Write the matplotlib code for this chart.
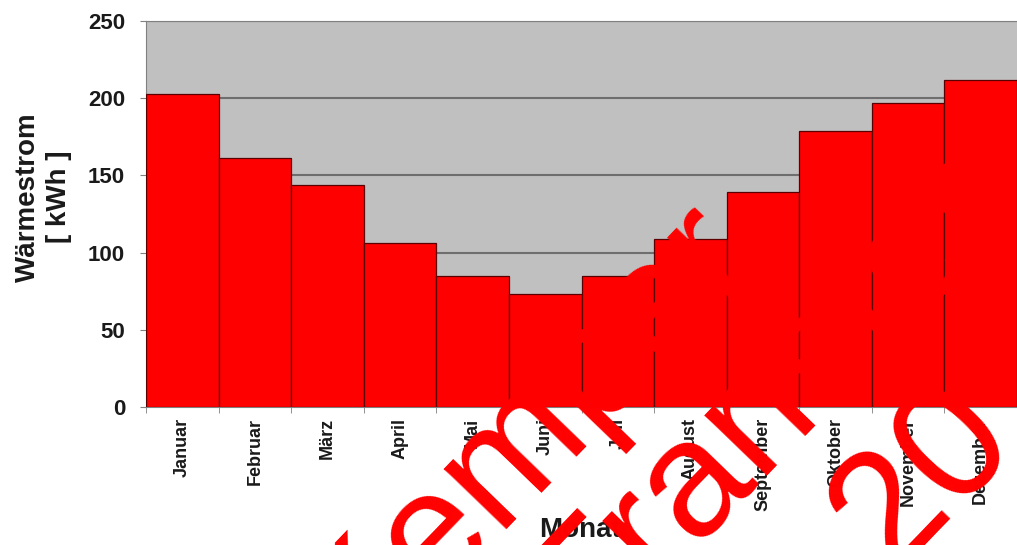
import matplotlib.pyplot as plt
import numpy as np

plt.rcParams["font.family"] = ["Liberation Sans", "DejaVu Sans"]

MONATE = ["Januar", "Februar", "März", "April", "Mai", "Juni",
          "Juli", "August", "September", "Oktober", "November", "Dezember"]
WAERMESTROM = [203, 161, 144, 106, 85, 73, 85, 109, 139, 179, 197, 212]
Y_TICKS = [0, 50, 100, 150, 200, 250]
WASSERZEICHEN = ["Kemper", "Transfer", "20"]

W, H = 1017, 545


def main() -> None:
    fig = plt.figure(figsize=(W / 100, H / 100), dpi=100)
    ax = fig.add_axes([146 / W, 1 - 407 / H, 1 - 146 / W, (407 - 21) / H])
    ax.set_facecolor("#c0c0c0")

    x = np.arange(len(MONATE))
    ax.bar(x, WAERMESTROM, width=1.0, color="#ff0000",
           edgecolor="#5a0000", linewidth=0.9, zorder=3)

    ax.set_xlim(-0.5, len(MONATE) - 0.5)
    ax.set_ylim(0, 250)
    ax.set_yticks(Y_TICKS)
    ax.set_yticklabels([str(v) for v in Y_TICKS], fontsize=16, fontweight="bold",
                       color="#1a1a1a")
    ax.yaxis.grid(True, color="#6e6e6e", linewidth=1.5, zorder=1)
    ax.set_axisbelow(True)

    # category labels centred, tick marks on the bar boundaries
    ax.set_xticks(x)
    ax.set_xticklabels(MONATE, rotation=90, fontsize=13, fontweight="bold",
                       va="top", ha="center", color="#1a1a1a")
    ax.tick_params(axis="x", which="major", length=0, pad=8)
    ax.set_xticks(np.arange(len(MONATE) + 1) - 0.5, minor=True)
    ax.tick_params(axis="x", which="minor", length=4.5, color="#808080")
    ax.tick_params(axis="y", length=4.5, color="#808080", pad=10.5)

    for side in ("left", "top", "bottom"):
        ax.spines[side].set_color("#808080")
    ax.spines["right"].set_visible(False)

    fig.text(43 / W, 1 - 197 / H, "Wärmestrom\n[ kWh ]", rotation=90,
             ha="center", va="center", fontsize=20, fontweight="bold",
             linespacing=1.25, color="#1a1a1a")
    fig.text(580 / W, 1 - 530 / H, "Monat", ha="center", va="center",
             fontsize=20, fontweight="bold", color="#1a1a1a")

    # diagonal watermark, one line per entry
    anchors = [(355, 672), (591, 655), (890, 573)]
    for text, (px, py) in zip(WASSERZEICHEN, anchors):
        fig.text(px / W, 1 - py / H, text, rotation=46, rotation_mode="anchor",
                 ha="left", va="baseline", fontsize=119, color="#ff0000",
                 zorder=10)

    fig.savefig("out.png", dpi=100)


if __name__ == "__main__":
    main()
